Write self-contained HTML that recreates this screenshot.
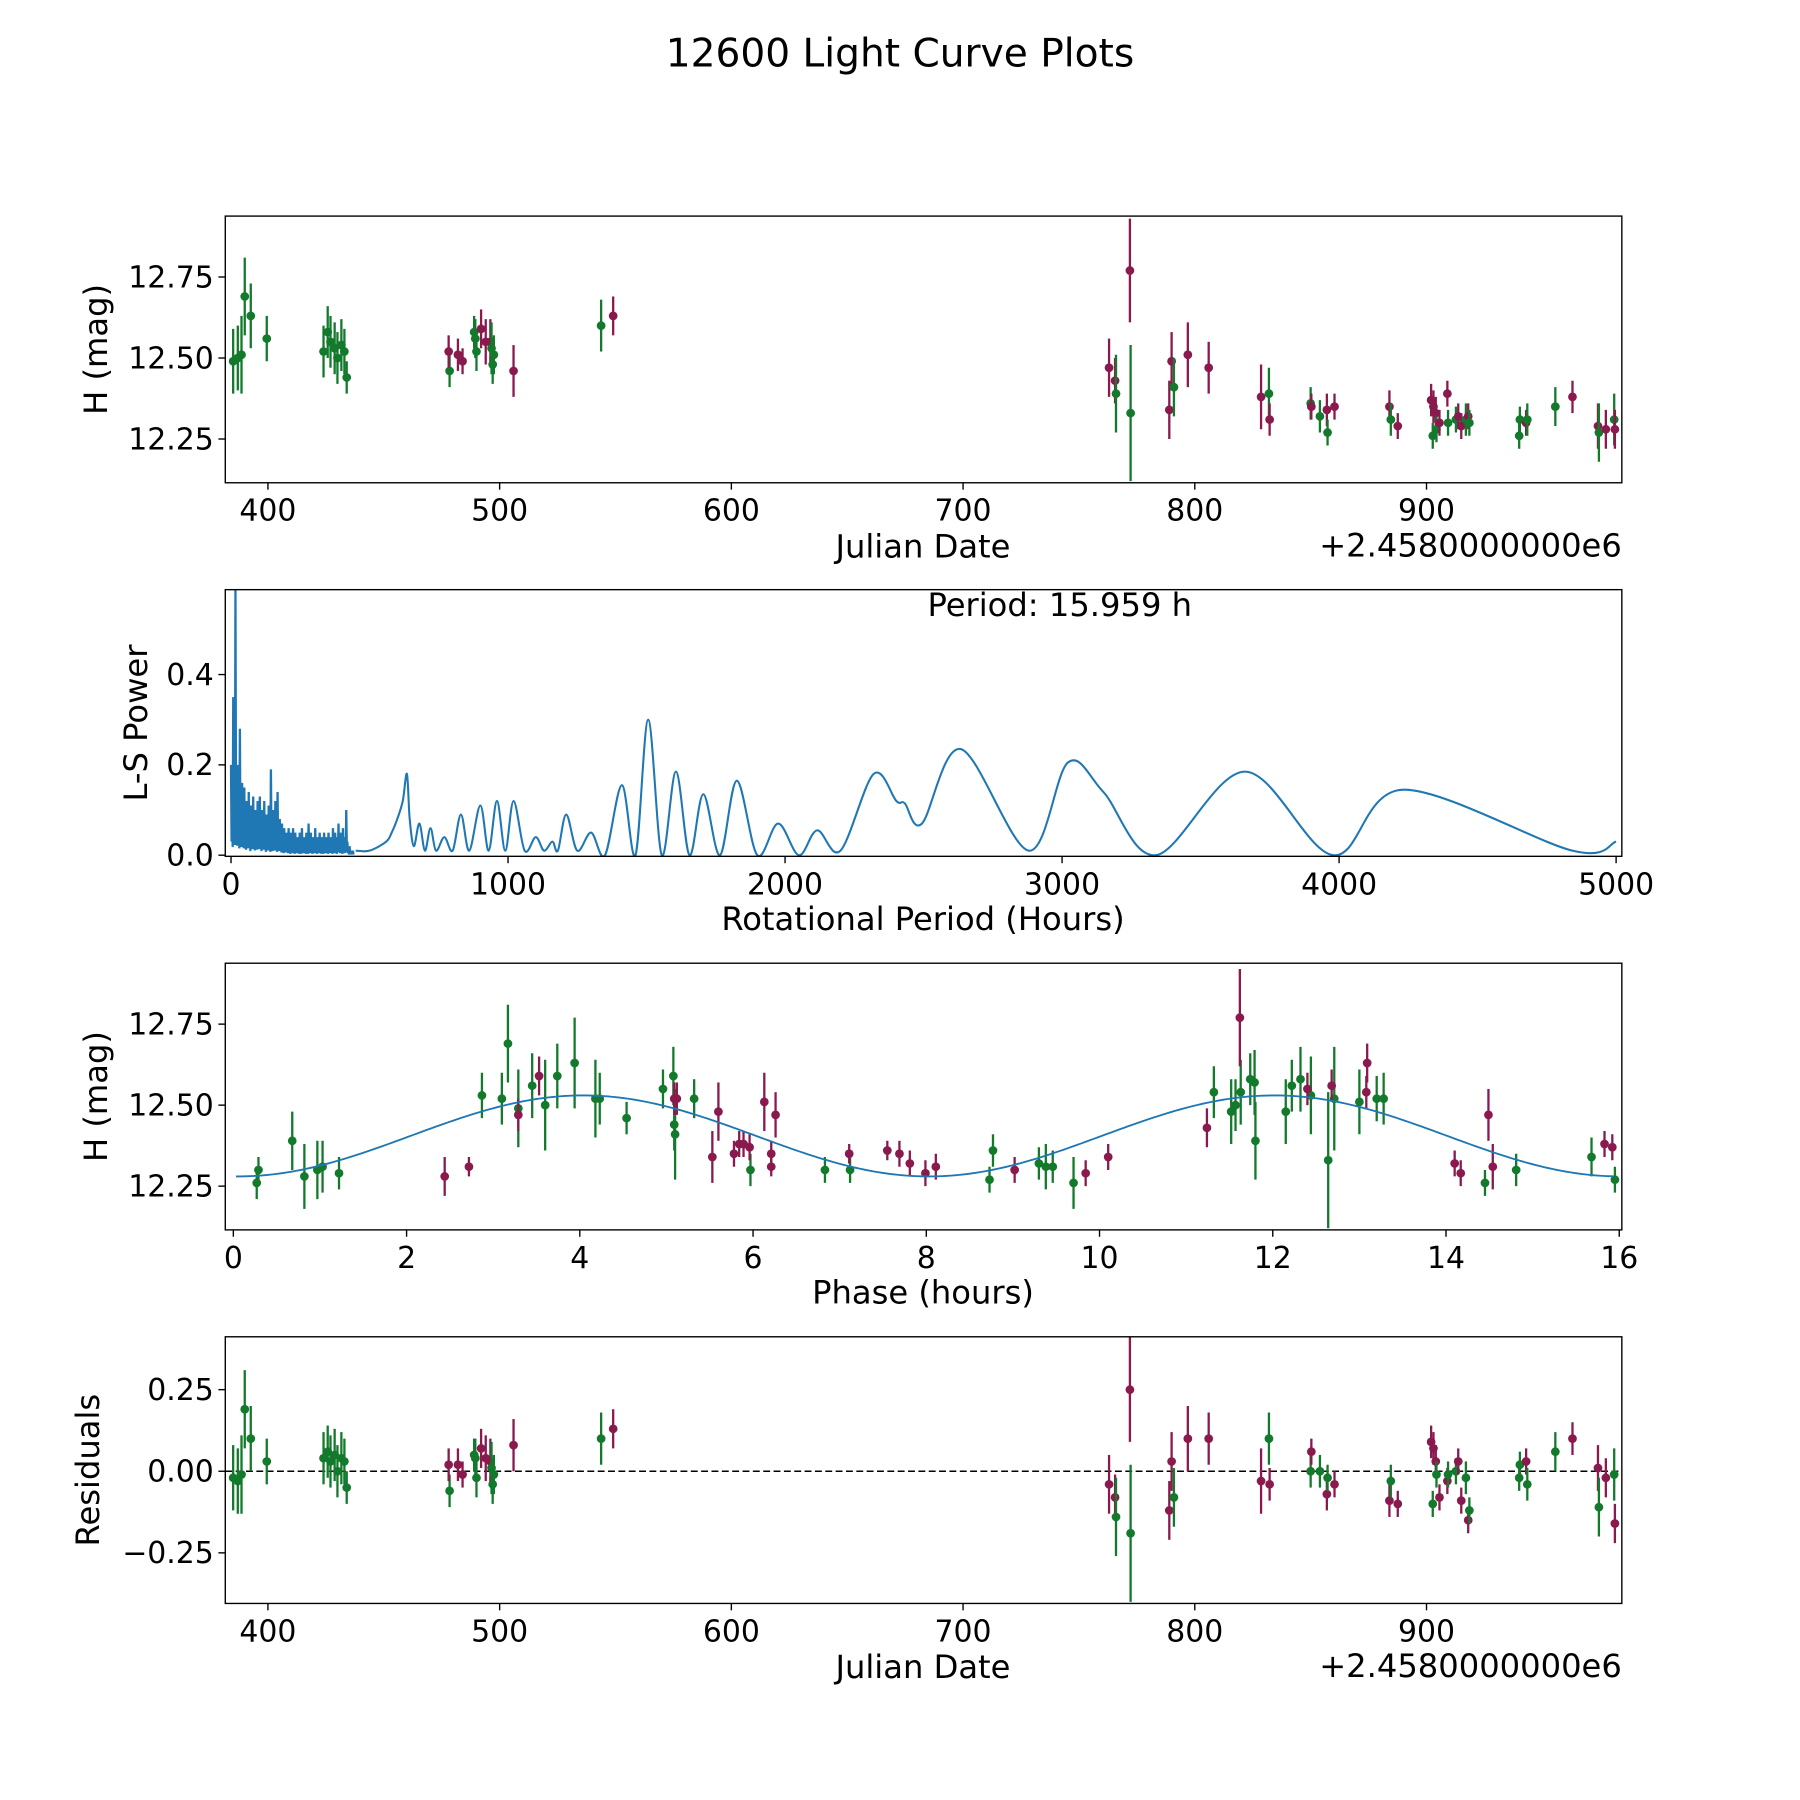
<!DOCTYPE html>
<html><head><meta charset="utf-8"><style>
html,body{margin:0;padding:0;background:#fff}
svg{display:block}
text{font-family:"DejaVu Sans","Liberation Sans",sans-serif;fill:#000}
</style></head><body>
<svg id="fig" width="1800" height="1800" viewBox="0 0 1566 1566" xmlns="http://www.w3.org/2000/svg">
<rect width="1566" height="1566" fill="#fff"/>
<text x="783" y="58" font-size="34" text-anchor="middle">12600 Light Curve Plots</text>
<g id="p1"></g>
<g id="p2"></g>
<g id="p3"></g>
<g id="p4"></g>
</svg>
<script>
// ---------- data ----------
const obsDate=[385,387,388.6,390,392.6,399.5,424,425.8,427,428.8,430,431.7,433,434,478.4,478,482,484,489,489.5,490,492,494,496,496.5,497,497.5,506,543.8,549,763,765.6,766,772,772.3,789,790,791,797,806,828.6,832,832.3,850,850.3,854,857,857.3,860.3,884,884.6,887.6,902,903,904,902.7,904.3,905.6,909,909.3,912.7,913.7,915,917,918,918.5,940,940.3,943,943.5,955.6,963,974,974.4,977.4,981,981.3];
const obsH=[12.49,12.50,12.51,12.69,12.63,12.56,12.52,12.58,12.55,12.53,12.50,12.54,12.52,12.44,12.46,12.52,12.51,12.49,12.58,12.56,12.52,12.59,12.55,12.55,12.53,12.48,12.51,12.46,12.60,12.63,12.47,12.43,12.39,12.77,12.33,12.34,12.49,12.41,12.51,12.47,12.38,12.39,12.31,12.36,12.35,12.32,12.34,12.27,12.35,12.35,12.31,12.29,12.37,12.35,12.33,12.26,12.28,12.30,12.39,12.30,12.31,12.32,12.29,12.31,12.32,12.30,12.26,12.31,12.30,12.31,12.35,12.38,12.29,12.27,12.28,12.31,12.28];
const obsErr=[0.1,0.1,0.12,0.12,0.1,0.07,0.08,0.08,0.08,0.08,0.08,0.08,0.07,0.05,0.05,0.05,0.05,0.04,0.05,0.06,0.06,0.06,0.07,0.07,0.08,0.06,0.06,0.08,0.08,0.06,0.09,0.07,0.12,0.16,0.21,0.09,0.09,0.09,0.1,0.08,0.1,0.08,0.05,0.05,0.04,0.05,0.05,0.04,0.04,0.05,0.05,0.04,0.05,0.05,0.05,0.04,0.04,0.04,0.04,0.04,0.04,0.04,0.04,0.05,0.04,0.04,0.04,0.04,0.04,0.05,0.06,0.05,0.07,0.09,0.06,0.08,0.06];
const obsColor=["g","g","g","g","g","g","g","g","g","g","g","g","g","g","g","m","m","m","g","g","g","m","m","m","g","g","g","m","g","m","m","m","g","m","g","m","m","g","m","m","m","g","m","g","m","g","m","g","m","m","g","m","m","m","m","g","g","m","m","g","g","m","m","g","m","g","g","g","m","g","g","m","m","g","m","g","m"];
const resid=[-0.02,-0.03,-0.01,0.19,0.10,0.03,0.04,0.06,0.03,0.05,0.0,0.04,0.03,-0.05,-0.06,0.02,0.02,-0.01,0.05,0.04,-0.02,0.07,0.04,0.03,0.01,-0.04,-0.01,0.08,0.10,0.13,-0.04,-0.08,-0.14,0.25,-0.19,-0.12,0.03,-0.08,0.10,0.10,-0.03,0.10,-0.04,0.0,0.06,0.0,-0.07,-0.02,-0.04,-0.09,-0.03,-0.10,0.09,0.07,0.03,-0.10,-0.01,-0.08,-0.03,-0.01,0.0,0.03,-0.09,-0.02,-0.15,-0.12,-0.02,0.02,0.03,-0.04,0.06,0.10,0.01,-0.11,-0.02,-0.01,-0.16];

const phG=[0.27,0.29,0.68,0.82,0.97,1.03,1.22,2.87,3.1,3.17,3.29,3.45,3.6,3.74,3.94,4.18,4.23,4.54,4.96,5.08,5.09,5.1,5.32,5.97,6.83,7.12,8.73,8.77,9.3,9.38,9.46,9.7,11.32,11.52,11.57,11.63,11.74,11.79,11.8,12.15,12.22,12.32,12.44,12.64,12.71,13.0,13.2,13.28,14.45,14.81,15.68,15.95];
const phGH=[12.26,12.30,12.39,12.28,12.30,12.31,12.29,12.53,12.52,12.69,12.49,12.56,12.50,12.59,12.63,12.52,12.52,12.46,12.55,12.59,12.44,12.41,12.52,12.30,12.30,12.30,12.27,12.36,12.32,12.31,12.31,12.26,12.54,12.48,12.50,12.54,12.58,12.57,12.39,12.48,12.56,12.58,12.53,12.33,12.52,12.51,12.52,12.52,12.26,12.30,12.34,12.27];
const phGErr=[0.05,0.04,0.09,0.1,0.09,0.08,0.05,0.07,0.08,0.12,0.12,0.1,0.14,0.1,0.14,0.12,0.08,0.05,0.06,0.09,0.08,0.14,0.06,0.05,0.04,0.04,0.04,0.05,0.05,0.07,0.05,0.08,0.08,0.1,0.08,0.1,0.08,0.1,0.12,0.1,0.08,0.1,0.12,0.21,0.16,0.1,0.07,0.08,0.04,0.05,0.06,0.04];
const phM=[2.44,2.72,3.29,3.53,5.09,5.12,5.53,5.6,5.78,5.84,5.89,5.96,6.13,6.21,6.21,6.26,7.11,7.55,7.69,7.81,7.99,8.11,9.02,9.84,10.1,11.24,11.62,12.4,12.68,13.08,13.09,14.49,14.1,14.17,14.54,15.83,15.92];
const phMH=[12.28,12.31,12.47,12.59,12.52,12.52,12.34,12.48,12.35,12.38,12.38,12.37,12.51,12.35,12.31,12.47,12.35,12.36,12.35,12.32,12.29,12.31,12.30,12.29,12.34,12.43,12.77,12.55,12.56,12.54,12.63,12.47,12.32,12.29,12.31,12.38,12.37];
const phMErr=[0.06,0.03,0.05,0.06,0.05,0.05,0.08,0.09,0.04,0.04,0.04,0.04,0.09,0.04,0.03,0.07,0.03,0.03,0.04,0.04,0.04,0.04,0.04,0.04,0.04,0.06,0.15,0.05,0.05,0.05,0.06,0.08,0.04,0.04,0.07,0.04,0.04];
const fitMean=12.405, fitAmp=0.125, fitPeriod=7.98, fitPhase0=0.05;

const lsPeriods=[450,500,560,580,600,620,635,645,660,680,700,720,740,770,800,830,860,900,930,960,990,1020,1060,1100,1130,1160,1180,1210,1250,1300,1350,1411,1460,1506,1555,1606,1655,1705,1765,1826,1900,1975,2050,2116,2200,2320,2402,2432,2494,2635,2880,3021,3149,3340,3660,3979,4232,4842,5000];
const lsPower=[0.01,0.01,0.03,0.05,0.08,0.12,0.18,0.08,0.02,0.07,0.01,0.06,0.01,0.04,0.01,0.09,0.01,0.11,0.01,0.12,0.01,0.12,0.01,0.04,0.01,0.03,0.01,0.09,0.01,0.05,0.0,0.155,0.0,0.30,0.0,0.185,0.0,0.135,0.0,0.165,0.0,0.07,0.0,0.055,0.01,0.18,0.12,0.115,0.07,0.235,0.01,0.205,0.14,0.0,0.185,0.0,0.145,0.01,0.03];
const spikePower=[0.2,0.12,0.35,0.15,0.59,0.14,0.2,0.1,0.28,0.12,0.16,0.1,0.15,0.08,0.12,0.1,0.14,0.06,0.11,0.09,0.13,0.07,0.1,0.08,0.12,0.09,0.13,0.06,0.1,0.08,0.12,0.05,0.09,0.07,0.11,0.05,0.19,0.06,0.1,0.07,0.12,0.05,0.14,0.06,0.08,0.04,0.07,0.03,0.06,0.04,0.05,0.03,0.06,0.02,0.05,0.03,0.06,0.02,0.05,0.03,0.04,0.02,0.05,0.02,0.06,0.03,0.04,0.02,0.05,0.02,0.07,0.03,0.05,0.02,0.04,0.03,0.06,0.02,0.04,0.03,0.05,0.02,0.04,0.02,0.05,0.03,0.04,0.02,0.05,0.03,0.04,0.02,0.06,0.03,0.05,0.02,0.04,0.07,0.03,0.05,0.02,0.06,0.03,0.04,0.1,0.03,0.01,0.02,0.01,0.01,0.01];
const spikeStep=4;

const xTicksJD=[400,500,600,700,800,900];
const yTicksH=[12.25,12.50,12.75];
const xTicksLS=[0,1000,2000,3000,4000,5000];
const yTicksLS=[0.0,0.2,0.4];
const xTicksPh=[0,2,4,6,8,10,12,14,16];
const yTicksRes=[-0.25,0.00,0.25];

// ---------- helpers ----------
const NS="http://www.w3.org/2000/svg";
const COL={g:"#137a2c",m:"#8a1a4e"};
const L=196,R=1411;
const TICKFS=26, LABFS=28;
function mk(parent,tag,attrs,txt){const e=document.createElementNS(NS,tag);for(const k in attrs)e.setAttribute(k,attrs[k]);if(txt!==undefined)e.textContent=txt;parent.appendChild(e);return e;}
function scale(d0,d1,r0,r1){return v=>r0+(v-d0)*(r1-r0)/(d1-d0);}
function frame(g,top,bot){
  const r=mk(g,'rect',{x:L,y:top,width:R-L,height:bot-top,fill:'none',stroke:'#000','stroke-width':1.2});
  
  
}
function xticks(g,ticks,sx,bot,fmt){
  ticks.forEach(t=>{const x=sx(t);
    const l=mk(g,'line',{x1:x,x2:x,y1:bot,y2:bot+6,stroke:'#000','stroke-width':1.2});
    
    
    const tx=mk(g,'text',{x:x,y:bot+33,'font-size':TICKFS,'text-anchor':'middle'},fmt?fmt(t):String(t));
    
    
  });
}
function yticks(g,ticks,sy,fmt){
  ticks.forEach(t=>{const y=sy(t);
    const l=mk(g,'line',{x1:L-6,x2:L,y1:y,y2:y,stroke:'#000','stroke-width':1.2});
    
    
    const tx=mk(g,'text',{x:L-10,y:y+9,'font-size':TICKFS,'text-anchor':'end'},fmt(t));
    
    
  });
}
function ylabel(g,txt,x,cy){
  const t=mk(g,'text',{x:x,y:cy,'font-size':LABFS,'text-anchor':'middle',transform:`rotate(-90 ${x} ${cy})`},txt);
  
  
}
function xlabel(g,txt,y){
  const t=mk(g,'text',{x:803,y:y,'font-size':LABFS,'text-anchor':'middle'},txt);
  
  
}
function point(g,x,y,y1,y2,c,clipId){
  const l=mk(g,'line',{x1:x,x2:x,y1:y1,y2:y2,stroke:c,'stroke-width':2,'clip-path':`url(#${clipId})`});
  
  
  const d=mk(g,'circle',{cx:x,cy:y,r:3.8,fill:c,'clip-path':`url(#${clipId})`});
  
  
}
function clip(g,id,top,bot){
  const defs=mk(g,'defs',{});const cp=mk(defs,'clipPath',{id:id});mk(cp,'rect',{x:L,y:top,width:R-L,height:bot-top});
}
function catmull(pts){
  let d=`M${pts[0][0]},${pts[0][1]}`;
  for(let i=0;i<pts.length-1;i++){
    const p0=pts[i-1]||pts[i],p1=pts[i],p2=pts[i+1],p3=pts[i+2]||p2;
    const c1=[p1[0]+(p2[0]-p0[0])/6,p1[1]+(p2[1]-p0[1])/6];
    const c2=[p2[0]-(p3[0]-p1[0])/6,p2[1]-(p3[1]-p1[1])/6];
    d+=` C${c1[0]},${c1[1]} ${c2[0]},${c2[1]} ${p2[0]},${p2[1]}`;
  }
  return d;
}
const f2=t=>t.toFixed(2);

// ---------- panel 1 ----------
(function(){
  const g=document.getElementById('p1'),top=188,bot=420;
  const sx=scale(381.6,984.3,L,R), sy=scale(12.115,12.938,bot,top);
  clip(g,'c1',top,bot);
  obsDate.forEach((d,i)=>point(g,sx(d),sy(obsH[i]),sy(obsH[i]+obsErr[i]),sy(obsH[i]-obsErr[i]),COL[obsColor[i]],'c1'));
  frame(g,top,bot);
  xticks(g,xTicksJD,sx,bot);yticks(g,yTicksH,sy,f2);
  xlabel(g,'Julian Date',485);ylabel(g,'H (mag)',93,(top+bot)/2);
  const o=mk(g,'text',{x:R,y:484,'font-size':LABFS,'text-anchor':'end'},'+2.4580000000e6');
  
  
})();

// ---------- panel 2 ----------
(function(){
  const g=document.getElementById('p2'),top=513,bot=745;
  const sx=scale(-20.7,5020.7,L,R), sy=scale(-0.0025,0.588,bot,top);
  clip(g,'c2',top,bot);
  let pts=[];
  spikePower.forEach((v,i)=>{const p=i*spikeStep;pts.push(`${sx(p)},${sy(v)}`);pts.push(`${sx(p+spikeStep/2)},${sy(v*0.15)}`);});
  const sp=mk(g,'polyline',{points:pts.join(' '),fill:'none',stroke:'#1f77b4','stroke-width':2,'clip-path':'url(#c2)'});
  
  
  const cp=lsPeriods.map((p,i)=>[sx(p),sy(lsPower[i])]);
  const ln=mk(g,'path',{d:catmull(cp),fill:'none',stroke:'#1f77b4','stroke-width':1.8,'clip-path':'url(#c2)'});
  
  
  frame(g,top,bot);
  xticks(g,xTicksLS,sx,bot);yticks(g,yTicksLS,sy,t=>t.toFixed(1));
  xlabel(g,'Rotational Period (Hours)',809);ylabel(g,'L-S Power',128,(top+bot)/2);
  const a=mk(g,'text',{x:922,y:536,'font-size':LABFS,'text-anchor':'middle'},'Period: 15.959 h');
  
  
})();

// ---------- panel 3 ----------
(function(){
  const g=document.getElementById('p3'),top=838,bot=1070;
  const sx=scale(-0.093,16.03,L,R), sy=scale(12.115,12.938,bot,top);
  clip(g,'c3',top,bot);
  phG.forEach((p,i)=>point(g,sx(p),sy(phGH[i]),sy(phGH[i]+phGErr[i]),sy(phGH[i]-phGErr[i]),COL.g,'c3'));
  phM.forEach((p,i)=>point(g,sx(p),sy(phMH[i]),sy(phMH[i]+phMErr[i]),sy(phMH[i]-phMErr[i]),COL.m,'c3'));
  let d='';for(let p=0.03;p<=15.96;p+=0.05){const v=fitMean-fitAmp*Math.cos(2*Math.PI*(p-fitPhase0)/fitPeriod);d+=(d?' L':'M')+sx(p)+','+sy(v);}
  const f=mk(g,'path',{d:d,fill:'none',stroke:'#1f77b4','stroke-width':1.6});
  
  
  frame(g,top,bot);
  xticks(g,xTicksPh,sx,bot);yticks(g,yTicksH,sy,f2);
  xlabel(g,'Phase (hours)',1134);ylabel(g,'H (mag)',93,(top+bot)/2);
})();

// ---------- panel 4 ----------
(function(){
  const g=document.getElementById('p4'),top=1163,bot=1395;
  const sx=scale(381.6,984.3,L,R), sy=scale(-0.405,0.412,bot,top);
  clip(g,'c4',top,bot);
  const z=mk(g,'line',{x1:L,x2:R,y1:sy(0),y2:sy(0),stroke:'#000','stroke-width':1.4,'stroke-dasharray':'6,3'});
  
  
  obsDate.forEach((d,i)=>point(g,sx(d),sy(resid[i]),sy(resid[i]+obsErr[i]),sy(resid[i]-obsErr[i]),COL[obsColor[i]],'c4'));
  frame(g,top,bot);
  xticks(g,xTicksJD,sx,bot);yticks(g,yTicksRes,sy,t=>(t<0?'\u2212':'')+Math.abs(t).toFixed(2));
  xlabel(g,'Julian Date',1460);ylabel(g,'Residuals',86,(top+bot)/2);
  const o=mk(g,'text',{x:R,y:1459,'font-size':LABFS,'text-anchor':'end'},'+2.4580000000e6');
  
  
})();
</script>
</body></html>
